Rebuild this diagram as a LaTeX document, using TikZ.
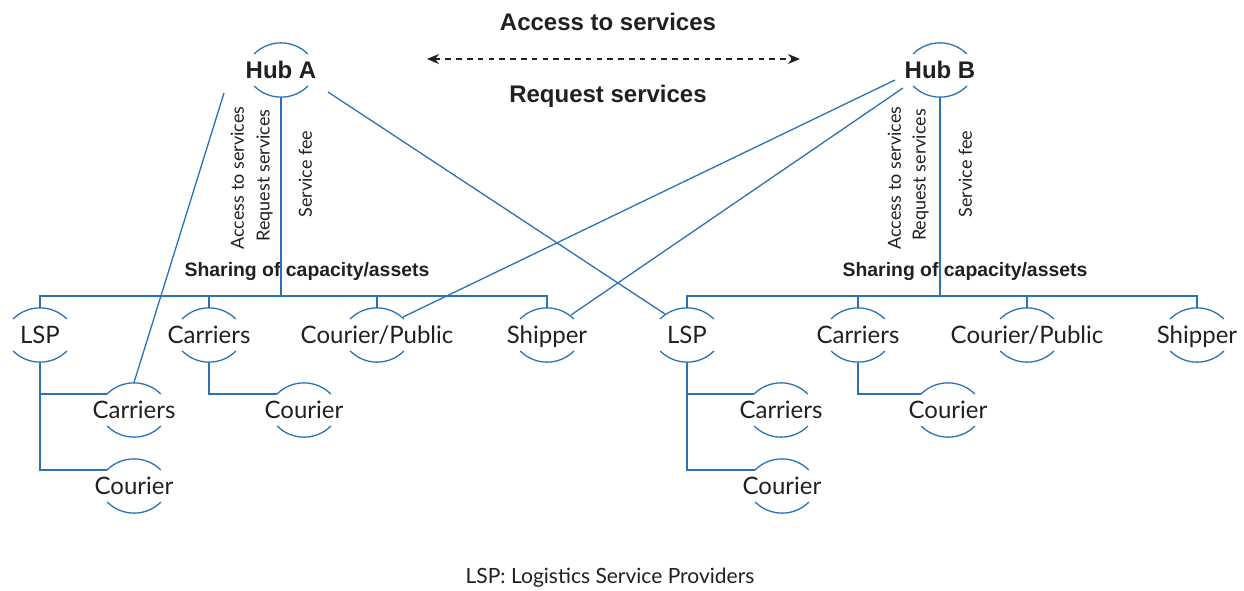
\documentclass[tikz,border=0pt]{standalone}
\usepackage{fontspec}
\setmainfont{Lato}
\newfontfamily\headfont{Liberation Sans Bold}
\usetikzlibrary{positioning}
\usetikzlibrary{arrows.meta}
\usetikzlibrary{calc}
\definecolor{linkblue}{RGB}{41,114,185}
\definecolor{ink}{RGB}{35,31,32}
\tikzset{x=0.5pt, y=-0.5pt, % one unit is one pixel of the sketch
party/.style=
    { % a member of the network, text between two arcs
        rectangle,
        inner sep=0pt,
        minimum height=27.1pt,
        text height=8.6pt, text depth=0pt,
        font=\fontsize{12}{14}\selectfont,
        text=ink
    },
    hub/.style={party, font=\headfont\fontsize{12}{14}\selectfont},
    link/.style={draw=linkblue, line width=0.65pt}, % blue connectors
    flow/.style={rotate=90, inner sep=0pt, text=ink, font=\fontsize{9}{11}\selectfont},
    heading/.style={inner sep=0pt, text=ink, font=\headfont\fontsize{12}{14}\selectfont},
    shared/.style={inner sep=0pt, text=ink, font=\headfont\fontsize{9.7}{11}\selectfont}
}
% the two arcs round a member
\newcommand{\hoops}[1]{%
    \draw[link] (#1.center) ++(13.4pt,8pt) arc[start angle=45,end angle=135,radius=19pt];
    \draw[link] (#1.center) ++(-13.4pt,-8pt) arc[start angle=225,end angle=315,radius=19pt];
}

\begin{document}
\begin{tikzpicture}
\useasboundingbox (0,0) rectangle (1244,590);
\node [hub]   (hubA) at (281,70) {Hub A};
\node [hub]   (hubB) at (940,70) {Hub B};
%%%%%%%%%%%%%%%%%%%%%%%%%%%%%%%%%%
\node [party] (lspA)   at (40,335)  {LSP};
\node [party] (carA)   at (209,335) {Carriers};
\node [party] (pubA)   at (377,335) {Courier/Public};
\node [party] (shipA)  at (547,335) {Shipper};
\node [party] (carA2)  at (134,410) {Carriers};
\node [party] (courA2) at (304,410) {Courier};
\node [party] (courA3) at (134,486) {Courier};
%%%%%%%%%%%%%%%%%%%%%%%%%%%%%%%%%%
\node [party] (lspB)   at (687,335)  {LSP};
\node [party] (carB)   at (858,335)  {Carriers};
\node [party] (pubB)   at (1027,335) {Courier/Public};
\node [party] (shipB)  at (1197,335) {Shipper};
\node [party] (carB2)  at (781,410)  {Carriers};
\node [party] (courB2) at (948,410)  {Courier};
\node [party] (courB3) at (782,486)  {Courier};

\foreach \m in {hubA,hubB,lspA,carA,pubA,shipA,carA2,courA2,courA3,
                lspB,carB,pubB,shipB,carB2,courB2,courB3}
    \hoops{\m};

% texts
\node [heading] (accTop) at (608,22) {Access to services};
\node [heading] (reqTop) at (608,96) {Request services};
\node [shared]  (shareA) at (307,272) {Sharing of capacity/assets};
\node [shared]  (shareB) at (965,272) {Sharing of capacity/assets};
\node [flow] (accA) at (237.5,178) {Access to services};
\node [flow] (reqA) at (264.5,175.5) {Request services};
\node [flow] (feeA) at (305.5,174) {Service fee};
\node [flow] (accB) at (894.5,178) {Access to services};
\node [flow] (reqB) at (920.5,175) {Request services};
\node [flow] (feeB) at (965.5,174) {Service fee};
\node [text=ink, font=\fontsize{10.5}{12}\selectfont] (note) at (610,578)
    {LSP: Logistics Service Providers};

\coordinate (arrL) at (427,59);
\coordinate (arrR) at (800,59);
\draw [ink, line width=0.55pt, dash pattern=on 2.8pt off 2.6pt,
       {Stealth[length=6pt,width=5pt]}-{Stealth[length=6pt,width=5pt]}] (arrL) -- (arrR);

% buses
\coordinate (busA) at (281,296);
\coordinate (busB) at (940,296);
\draw[link] (hubA.south) -- (busA);
\draw[link] (lspA.north) |- (busA) -| (shipA.north);
\draw[link] (carA.north) -- (carA.north |- busA);
\draw[link] (pubA.north) -- (pubA.north |- busA);
\draw[link] (hubB.south) -- (busB);
\draw[link] (lspB.north) |- (busB) -| (shipB.north);
\draw[link] (carB.north) -- (carB.north |- busB);
\draw[link] (pubB.north) -- (pubB.north |- busB);

% branches
\draw[link] (lspA.south) |- ($(carA2.center)+(-13.4pt,8pt)$);
\draw[link] (lspA.south) |- ($(courA3.center)+(-13.4pt,8pt)$);
\draw[link] (carA.south) |- ($(courA2.center)+(-13.4pt,8pt)$);
\draw[link] (lspB.south) |- ($(carB2.center)+(-13.4pt,8pt)$);
\draw[link] (lspB.south) |- ($(courB3.center)+(-13.4pt,8pt)$);
\draw[link] (carB.south) |- ($(courB2.center)+(-13.4pt,8pt)$);

% crossing lines
\draw[link] ($(hubA.center)+(-57,23)$) -- (carA2.north);
\draw[link] ($(hubA.center)+(47,22)$) -- ($(lspB.center)+(-22,-21)$);
\draw[link] ($(hubB.center)+(-45,10)$) -- ($(pubA.center)+(26,-18)$);
\draw[link] ($(hubB.center)+(-37,18)$) -- ($(shipA.center)+(24,-20)$);
\end{tikzpicture}
\end{document}
